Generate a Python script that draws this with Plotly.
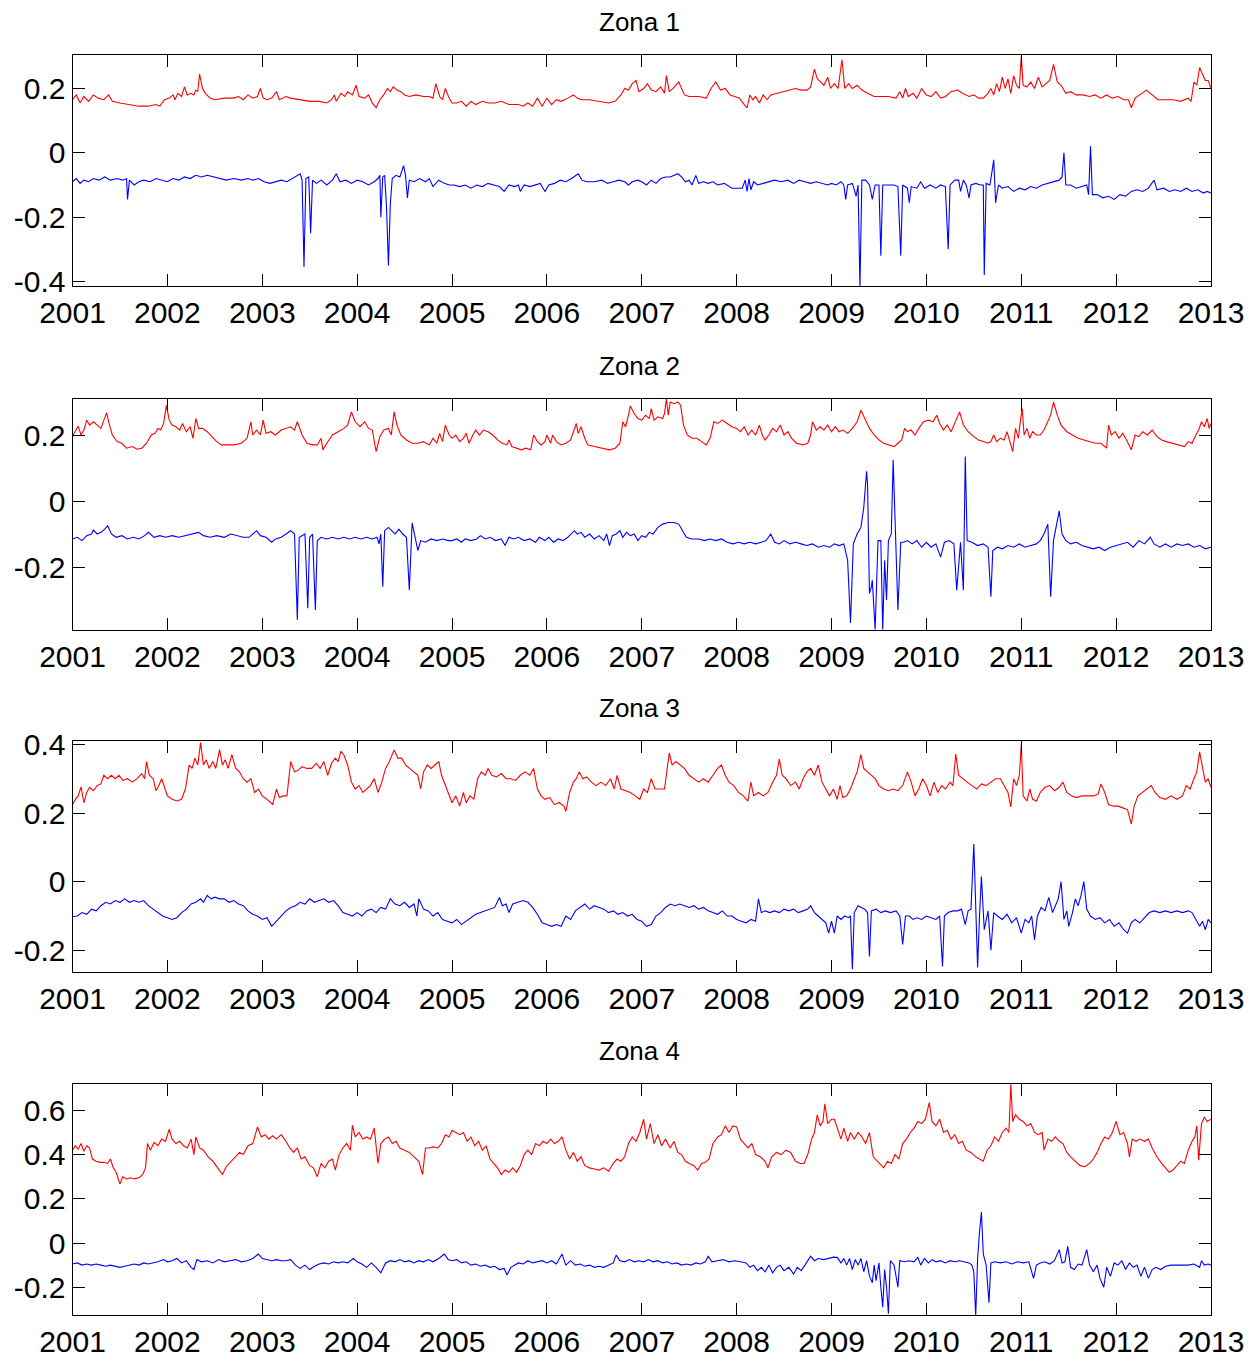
import plotly.graph_objects as go

# ---------------- data (fractional year, value) ----------------
zona_titles = ["Zona 1", "Zona 2", "Zona 3", "Zona 4"]
year_ticks = [2001, 2002, 2003, 2004, 2005, 2006, 2007, 2008, 2009, 2010, 2011, 2012, 2013]
year_labels = [str(y) for y in year_ticks]

y_ticks_1 = [-0.4, -0.2, 0, 0.2]
y_ticks_2 = [-0.2, 0, 0.2]
y_ticks_3 = [-0.2, 0, 0.2, 0.4]
y_ticks_4 = [-0.2, 0, 0.2, 0.4, 0.6]
y_labels_1 = ["-0.4", "-0.2", "0", "0.2"]
y_labels_2 = ["-0.2", "0", "0.2"]
y_labels_3 = ["-0.2", "0", "0.2", "0.4"]
y_labels_4 = ["-0.2", "0", "0.2", "0.4", "0.6"]

z1_red = [(2001.0,.165),(2001.04,.18),(2001.08,.155),(2001.12,.175),(2001.17,.16),(2001.22,.18),(2001.27,.17),(2001.33,.165),(2001.38,.18),(2001.42,.16),(2001.5,.155),(2001.6,.15),(2001.7,.145),(2001.8,.145),(2001.88,.15),(2001.92,.145),(2001.97,.165),(2002.02,.17),(2002.06,.18),(2002.08,.165),(2002.11,.185),(2002.15,.175),(2002.18,.205),(2002.21,.18),(2002.25,.185),(2002.28,.18),(2002.3,.195),(2002.32,.19),(2002.34,.245),(2002.37,.2),(2002.4,.185),(2002.45,.17),(2002.5,.165),(2002.6,.17),(2002.7,.17),(2002.75,.175),(2002.8,.165),(2002.85,.18),(2002.9,.17),(2002.95,.175),(2002.98,.2),(2003.01,.17),(2003.05,.165),(2003.1,.17),(2003.15,.19),(2003.18,.165),(2003.25,.175),(2003.3,.17),(2003.4,.165),(2003.5,.16),(2003.6,.16),(2003.68,.155),(2003.73,.165),(2003.76,.18),(2003.78,.16),(2003.83,.185),(2003.87,.175),(2003.9,.19),(2003.95,.18),(2003.99,.21),(2004.02,.175),(2004.08,.17),(2004.12,.18),(2004.16,.155),(2004.2,.14),(2004.24,.165),(2004.28,.18),(2004.32,.2),(2004.35,.19),(2004.38,.205),(2004.42,.195),(2004.46,.19),(2004.5,.18),(2004.55,.175),(2004.62,.18),(2004.7,.175),(2004.76,.175),(2004.8,.17),(2004.83,.215),(2004.87,.175),(2004.9,.165),(2004.93,.2),(2004.97,.17),(2005.0,.155),
(2005.05,.155),(2005.1,.16),(2005.15,.145),(2005.2,.16),(2005.25,.15),(2005.32,.16),(2005.38,.155),(2005.45,.155),(2005.52,.16),(2005.6,.15),(2005.7,.15),(2005.75,.145),(2005.8,.155),(2005.85,.145),(2005.9,.17),(2005.95,.145),(2006.0,.17),(2006.05,.15),(2006.1,.165),(2006.15,.16),(2006.22,.17),(2006.28,.18),(2006.32,.17),(2006.36,.165),(2006.45,.165),(2006.55,.16),(2006.65,.155),(2006.72,.16),(2006.78,.18),(2006.82,.2),(2006.86,.195),(2006.9,.215),(2006.94,.225),(2006.97,.19),(2007.02,.2),(2007.06,.215),(2007.1,.195),(2007.15,.19),(2007.2,.205),(2007.24,.185),(2007.26,.24),(2007.29,.19),(2007.33,.2),(2007.39,.22),(2007.45,.18),(2007.5,.175),(2007.6,.175),(2007.68,.17),(2007.73,.2),(2007.78,.22),(2007.83,.195),(2007.88,.2),(2007.93,.18),(2007.98,.175),(2008.03,.17),(2008.08,.15),(2008.11,.14),(2008.14,.18),(2008.17,.165),(2008.2,.175),(2008.24,.155),(2008.28,.18),(2008.32,.165),(2008.36,.18),(2008.42,.185),(2008.48,.19),(2008.55,.195),(2008.62,.2),(2008.68,.195),(2008.74,.195),(2008.78,.205),(2008.82,.26),(2008.85,.23),(2008.88,.22),(2008.92,.21),(2008.96,.235),(2008.99,.2),
(2009.03,.215),(2009.07,.2),(2009.11,.29),(2009.14,.2),(2009.18,.215),(2009.22,.2),(2009.27,.21),(2009.32,.195),(2009.38,.185),(2009.45,.175),(2009.52,.175),(2009.6,.175),(2009.68,.17),(2009.72,.19),(2009.75,.17),(2009.78,.2),(2009.81,.175),(2009.86,.185),(2009.9,.17),(2009.95,.2),(2010.0,.18),(2010.05,.175),(2010.1,.19),(2010.15,.17),(2010.2,.175),(2010.26,.19),(2010.33,.195),(2010.38,.185),(2010.45,.175),(2010.5,.18),(2010.55,.17),(2010.6,.17),(2010.65,.185),(2010.68,.2),(2010.71,.18),(2010.74,.215),(2010.77,.19),(2010.8,.235),(2010.83,.2),(2010.86,.23),(2010.89,.185),(2010.92,.24),(2010.95,.21),(2010.98,.2),(2011.0,.30),(2011.02,.21),(2011.06,.205),(2011.1,.22),(2011.14,.2),(2011.18,.235),(2011.22,.205),(2011.26,.215),(2011.3,.225),(2011.34,.275),(2011.38,.22),(2011.42,.21),(2011.47,.185),(2011.52,.19),(2011.58,.18),(2011.65,.18),(2011.72,.175),(2011.78,.18),(2011.84,.17),(2011.9,.18),(2011.96,.17),(2012.02,.175),(2012.08,.165),(2012.13,.165),(2012.16,.14),(2012.2,.17),(2012.25,.18),(2012.32,.195),(2012.38,.18),(2012.44,.165),(2012.52,.165),(2012.6,.165),(2012.68,.16),(2012.76,.17),(2012.79,.16),(2012.82,.22),(2012.85,.21),(2012.88,.265),(2012.91,.245),(2012.94,.225),(2012.97,.225),(2013.0,.2)]

z1_blue = [(2001.0,-.09),(2001.04,-.08),(2001.08,-.095),(2001.12,-.085),(2001.17,-.09),(2001.22,-.08),(2001.28,-.085),(2001.34,-.075),(2001.4,-.085),(2001.47,-.08),(2001.53,-.085),(2001.57,-.08),(2001.58,-.145),(2001.6,-.085),(2001.65,-.1),(2001.7,-.09),(2001.75,-.085),(2001.82,-.09),(2001.88,-.08),(2001.95,-.085),(2002.0,-.09),(2002.06,-.08),(2002.12,-.085),(2002.18,-.075),(2002.24,-.08),(2002.3,-.07),(2002.36,-.075),(2002.42,-.07),(2002.48,-.075),(2002.55,-.08),(2002.62,-.085),(2002.7,-.08),(2002.78,-.085),(2002.85,-.08),(2002.9,-.085),(2002.96,-.08),(2003.02,-.09),(2003.08,-.095),(2003.14,-.09),(2003.2,-.085),(2003.26,-.09),(2003.32,-.08),(2003.37,-.07),(2003.4,-.065),(2003.42,-.085),(2003.44,-.355),(2003.46,-.08),(2003.49,-.075),(2003.51,-.25),(2003.53,-.085),(2003.57,-.095),(2003.62,-.085),(2003.68,-.1),(2003.74,-.085),(2003.78,-.065),(2003.82,-.09),(2003.88,-.085),(2003.94,-.095),(2004.0,-.085),(2004.06,-.09),(2004.12,-.1),(2004.18,-.09),(2004.22,-.08),(2004.24,-.07),(2004.25,-.2),(2004.27,-.075),(2004.29,-.07),(2004.31,-.17),(2004.33,-.35),(2004.35,-.16),(2004.37,-.08),(2004.41,-.07),(2004.45,-.075),(2004.49,-.04),(2004.51,-.07),(2004.53,-.14),(2004.55,-.085),(2004.6,-.09),(2004.66,-.08),(2004.72,-.09),(2004.76,-.08),(2004.8,-.105),(2004.86,-.085),(2004.92,-.095),(2004.97,-.1),
(2005.02,-.1),(2005.08,-.105),(2005.14,-.1),(2005.2,-.11),(2005.26,-.1),(2005.32,-.105),(2005.38,-.095),(2005.44,-.1),(2005.5,-.105),(2005.55,-.12),(2005.6,-.1),(2005.66,-.105),(2005.7,-.1),(2005.72,-.12),(2005.76,-.1),(2005.82,-.105),(2005.88,-.1),(2005.93,-.095),(2005.98,-.12),(2006.02,-.1),(2006.08,-.095),(2006.14,-.085),(2006.2,-.09),(2006.26,-.08),(2006.33,-.065),(2006.37,-.085),(2006.42,-.09),(2006.5,-.09),(2006.58,-.085),(2006.64,-.095),(2006.7,-.09),(2006.76,-.085),(2006.82,-.09),(2006.86,-.1),(2006.9,-.09),(2006.96,-.085),(2007.0,-.09),(2007.05,-.1),(2007.1,-.085),(2007.15,-.095),(2007.2,-.08),(2007.25,-.075),(2007.3,-.075),(2007.35,-.07),(2007.38,-.065),(2007.42,-.075),(2007.46,-.09),(2007.5,-.085),(2007.53,-.1),(2007.57,-.07),(2007.6,-.095),(2007.65,-.09),(2007.7,-.095),(2007.75,-.09),(2007.8,-.1),(2007.87,-.095),(2007.95,-.11),(2008.02,-.11),(2008.06,-.11),(2008.09,-.085),(2008.11,-.12),(2008.13,-.08),(2008.15,-.115),(2008.18,-.09),(2008.22,-.1),(2008.28,-.095),(2008.33,-.09),(2008.4,-.085),(2008.47,-.09),(2008.54,-.085),(2008.6,-.095),(2008.66,-.085),(2008.72,-.09),(2008.78,-.095),(2008.84,-.09),(2008.9,-.095),(2008.96,-.1),
(2009.0,-.095),(2009.05,-.1),(2009.1,-.09),(2009.13,-.1),(2009.15,-.145),(2009.17,-.1),(2009.22,-.095),(2009.26,-.135),(2009.28,-.1),(2009.3,-.42),(2009.32,-.085),(2009.36,-.085),(2009.4,-.1),(2009.43,-.145),(2009.46,-.1),(2009.5,-.1),(2009.52,-.32),(2009.54,-.1),(2009.6,-.1),(2009.66,-.1),(2009.7,-.105),(2009.73,-.32),(2009.75,-.1),(2009.8,-.11),(2009.82,-.155),(2009.84,-.105),(2009.9,-.11),(2009.94,-.09),(2009.98,-.11),(2010.04,-.1),(2010.1,-.11),(2010.15,-.1),(2010.2,-.105),(2010.23,-.3),(2010.25,-.1),(2010.3,-.085),(2010.34,-.085),(2010.36,-.12),(2010.39,-.085),(2010.42,-.1),(2010.45,-.14),(2010.47,-.1),(2010.52,-.095),(2010.57,-.1),(2010.6,-.1),(2010.61,-.38),(2010.63,-.095),(2010.67,-.1),(2010.71,-.022),(2010.73,-.155),(2010.76,-.1),(2010.8,-.11),(2010.86,-.105),(2010.92,-.12),(2010.98,-.11),(2011.04,-.115),(2011.1,-.105),(2011.16,-.11),(2011.22,-.1),(2011.28,-.095),(2011.34,-.09),(2011.4,-.085),(2011.43,-.075),(2011.45,0.0),(2011.47,-.1),(2011.52,-.1),(2011.58,-.11),(2011.64,-.105),(2011.69,-.1),(2011.71,-.13),(2011.73,.02),(2011.75,-.13),(2011.8,-.13),(2011.86,-.14),(2011.92,-.135),(2011.98,-.145),(2012.04,-.13),(2012.1,-.135),(2012.16,-.12),(2012.22,-.115),(2012.28,-.12),(2012.34,-.11),(2012.4,-.085),(2012.43,-.115),(2012.5,-.11),(2012.56,-.12),(2012.62,-.115),(2012.68,-.12),(2012.74,-.11),(2012.8,-.12),(2012.86,-.115),(2012.92,-.125),(2012.96,-.12),(2013.0,-.125)]

z2_red = [(2001.0,.197),(2001.03,.21),(2001.06,.227),(2001.09,.2),(2001.12,.215),(2001.15,.245),(2001.18,.23),(2001.22,.24),(2001.26,.23),(2001.3,.22),(2001.33,.245),(2001.36,.267),(2001.39,.23),(2001.42,.2),(2001.47,.18),(2001.52,.175),(2001.57,.16),(2001.63,.165),(2001.68,.157),(2001.73,.16),(2001.78,.175),(2001.83,.2),(2001.87,.205),(2001.9,.22),(2001.93,.215),(2001.96,.235),(2001.99,.29),(2002.02,.245),(2002.05,.23),(2002.09,.225),(2002.13,.215),(2002.16,.235),(2002.2,.21),(2002.24,.225),(2002.27,.19),(2002.3,.25),(2002.33,.22),(2002.37,.22),(2002.42,.21),(2002.47,.195),(2002.52,.18),(2002.57,.17),(2002.62,.17),(2002.7,.17),(2002.78,.175),(2002.84,.19),(2002.88,.24),(2002.9,.2),(2002.94,.215),(2002.98,.2),(2003.01,.245),(2003.04,.205),(2003.09,.21),(2003.14,.2),(2003.2,.215),(2003.26,.22),(2003.3,.225),(2003.34,.215),(2003.37,.24),(2003.42,.2),(2003.47,.175),(2003.53,.17),(2003.58,.17),(2003.62,.19),(2003.64,.155),(2003.68,.175),(2003.74,.2),(2003.8,.21),(2003.86,.22),(2003.9,.23),(2003.94,.27),(2003.98,.24),(2004.03,.225),(2004.08,.24),(2004.12,.22),(2004.16,.215),(2004.2,.15),(2004.24,.195),(2004.28,.215),(2004.33,.22),(2004.36,.2),(2004.39,.27),(2004.42,.23),(2004.46,.2),(2004.52,.185),(2004.58,.175),(2004.64,.175),(2004.7,.18),(2004.76,.17),(2004.8,.19),(2004.84,.175),(2004.87,.205),(2004.9,.18),(2004.93,.23),(2004.97,.2),(2005.0,.19),
(2005.04,.2),(2005.08,.18),(2005.12,.19),(2005.15,.205),(2005.18,.175),(2005.22,.2),(2005.25,.215),(2005.29,.2),(2005.33,.215),(2005.38,.21),(2005.43,.2),(2005.48,.185),(2005.53,.175),(2005.58,.17),(2005.6,.185),(2005.63,.165),(2005.68,.16),(2005.73,.155),(2005.78,.16),(2005.83,.155),(2005.86,.2),(2005.9,.18),(2005.94,.17),(2005.98,.18),(2006.0,.2),(2006.04,.175),(2006.06,.2),(2006.1,.18),(2006.15,.17),(2006.2,.175),(2006.25,.185),(2006.28,.21),(2006.31,.235),(2006.33,.205),(2006.36,.225),(2006.4,.19),(2006.43,.17),(2006.5,.165),(2006.58,.16),(2006.66,.155),(2006.72,.16),(2006.77,.175),(2006.8,.24),(2006.83,.225),(2006.86,.26),(2006.88,.288),(2006.92,.265),(2006.96,.25),(2007.0,.245),(2007.04,.26),(2007.08,.25),(2007.1,.28),(2007.13,.245),(2007.17,.255),(2007.22,.25),(2007.24,.265),(2007.26,.31),(2007.28,.26),(2007.3,.3),(2007.34,.295),(2007.38,.3),(2007.41,.29),(2007.44,.23),(2007.48,.2),(2007.53,.19),(2007.58,.19),(2007.63,.18),(2007.68,.17),(2007.72,.19),(2007.76,.24),(2007.8,.235),(2007.85,.245),(2007.9,.235),(2007.95,.225),(2008.0,.22),(2008.04,.21),(2008.08,.225),(2008.12,.2),(2008.16,.215),(2008.2,.2),(2008.24,.23),(2008.27,.2),(2008.3,.185),(2008.34,.2),(2008.38,.22),(2008.42,.21),(2008.46,.23),(2008.5,.2),(2008.54,.21),(2008.58,.19),(2008.63,.175),(2008.7,.17),(2008.75,.175),(2008.78,.2),(2008.8,.24),(2008.84,.215),(2008.88,.225),(2008.92,.215),(2008.96,.23),(2009.0,.21),
(2009.04,.225),(2009.08,.21),(2009.12,.215),(2009.17,.205),(2009.22,.22),(2009.27,.24),(2009.31,.275),(2009.35,.25),(2009.4,.22),(2009.45,.2),(2009.5,.185),(2009.55,.175),(2009.6,.17),(2009.66,.165),(2009.7,.175),(2009.74,.185),(2009.77,.22),(2009.8,.21),(2009.84,.215),(2009.88,.2),(2009.92,.22),(2009.97,.24),(2010.02,.245),(2010.07,.24),(2010.11,.26),(2010.14,.235),(2010.18,.215),(2010.22,.23),(2010.26,.21),(2010.3,.235),(2010.35,.27),(2010.39,.23),(2010.44,.21),(2010.5,.195),(2010.55,.185),(2010.6,.18),(2010.65,.175),(2010.68,.18),(2010.71,.2),(2010.74,.18),(2010.78,.19),(2010.82,.185),(2010.85,.21),(2010.88,.18),(2010.91,.15),(2010.94,.22),(2010.97,.19),(2010.99,.24),(2011.01,.28),(2011.03,.2),(2011.06,.22),(2011.09,.19),(2011.12,.21),(2011.16,.2),(2011.2,.2),(2011.24,.215),(2011.28,.24),(2011.31,.26),(2011.34,.3),(2011.38,.26),(2011.42,.23),(2011.48,.21),(2011.54,.2),(2011.6,.19),(2011.66,.185),(2011.72,.18),(2011.78,.175),(2011.84,.175),(2011.88,.165),(2011.9,.16),(2011.92,.23),(2011.95,.2),(2011.99,.21),(2012.03,.19),(2012.07,.205),(2012.11,.185),(2012.16,.155),(2012.2,.2),(2012.24,.195),(2012.28,.21),(2012.33,.2),(2012.38,.215),(2012.43,.195),(2012.48,.185),(2012.53,.18),(2012.6,.175),(2012.66,.17),(2012.72,.165),(2012.76,.18),(2012.8,.175),(2012.84,.2),(2012.87,.215),(2012.9,.24),(2012.93,.225),(2012.96,.25),(2012.98,.22),(2013.0,.235)]

z2_blue = [(2001.0,-.115),(2001.05,-.11),(2001.1,-.12),(2001.15,-.105),(2001.2,-.1),(2001.22,-.088),(2001.26,-.1),(2001.3,-.095),(2001.34,-.085),(2001.37,-.075),(2001.41,-.1),(2001.46,-.11),(2001.52,-.105),(2001.58,-.115),(2001.64,-.11),(2001.7,-.115),(2001.76,-.105),(2001.8,-.095),(2001.86,-.11),(2001.92,-.105),(2001.98,-.11),(2002.05,-.105),(2002.12,-.11),(2002.2,-.105),(2002.26,-.1),(2002.33,-.095),(2002.38,-.105),(2002.45,-.11),(2002.52,-.105),(2002.6,-.11),(2002.67,-.1),(2002.74,-.105),(2002.8,-.11),(2002.86,-.11),(2002.9,-.1),(2002.94,-.09),(2002.98,-.105),(2003.04,-.11),(2003.1,-.125),(2003.14,-.115),(2003.2,-.11),(2003.25,-.1),(2003.3,-.09),(2003.34,-.1),(2003.36,-.28),(2003.37,-.36),(2003.39,-.11),(2003.45,-.1),(2003.48,-.325),(2003.5,-.11),(2003.53,-.1),(2003.56,-.33),(2003.58,-.12),(2003.62,-.11),(2003.68,-.115),(2003.74,-.11),(2003.8,-.115),(2003.86,-.11),(2003.92,-.115),(2003.98,-.11),(2004.04,-.115),(2004.1,-.11),(2004.16,-.115),(2004.21,-.11),(2004.23,-.13),(2004.25,-.1),(2004.27,-.26),(2004.29,-.09),(2004.33,-.08),(2004.36,-.09),(2004.4,-.1),(2004.44,-.085),(2004.48,-.1),(2004.52,-.11),(2004.55,-.27),(2004.58,-.066),(2004.61,-.11),(2004.64,-.15),(2004.67,-.12),(2004.72,-.125),(2004.78,-.115),(2004.84,-.12),(2004.9,-.115),(2004.96,-.12),
(2005.0,-.12),(2005.05,-.115),(2005.1,-.125),(2005.14,-.115),(2005.2,-.12),(2005.26,-.115),(2005.3,-.105),(2005.35,-.115),(2005.4,-.11),(2005.46,-.12),(2005.52,-.115),(2005.56,-.135),(2005.6,-.11),(2005.65,-.115),(2005.7,-.11),(2005.76,-.12),(2005.82,-.115),(2005.88,-.125),(2005.92,-.11),(2005.98,-.12),(2006.02,-.11),(2006.07,-.125),(2006.12,-.115),(2006.17,-.12),(2006.22,-.11),(2006.26,-.1),(2006.29,-.09),(2006.32,-.1),(2006.36,-.095),(2006.4,-.11),(2006.45,-.1),(2006.5,-.115),(2006.55,-.105),(2006.6,-.12),(2006.63,-.1),(2006.66,-.135),(2006.69,-.105),(2006.73,-.1),(2006.77,-.09),(2006.8,-.11),(2006.84,-.095),(2006.88,-.105),(2006.92,-.1),(2006.96,-.12),(2007.0,-.105),(2007.04,-.11),(2007.08,-.095),(2007.12,-.1),(2007.17,-.08),(2007.22,-.07),(2007.28,-.065),(2007.34,-.065),(2007.39,-.07),(2007.43,-.09),(2007.47,-.11),(2007.53,-.115),(2007.6,-.115),(2007.66,-.12),(2007.72,-.115),(2007.78,-.12),(2007.84,-.115),(2007.9,-.125),(2007.96,-.13),(2008.02,-.125),(2008.08,-.13),(2008.14,-.125),(2008.2,-.13),(2008.26,-.125),(2008.31,-.12),(2008.36,-.1),(2008.4,-.125),(2008.45,-.13),(2008.5,-.12),(2008.56,-.13),(2008.62,-.125),(2008.68,-.13),(2008.74,-.135),(2008.8,-.13),(2008.86,-.14),(2008.92,-.135),(2008.98,-.14),
(2009.03,-.13),(2009.08,-.135),(2009.13,-.13),(2009.17,-.18),(2009.2,-.37),(2009.23,-.13),(2009.27,-.1),(2009.31,-.08),(2009.34,-.02),(2009.37,.09),(2009.38,.05),(2009.4,-.28),(2009.42,-.26),(2009.43,-.24),(2009.46,-.39),(2009.49,-.12),(2009.52,-.12),(2009.54,-.39),(2009.56,-.18),(2009.58,-.3),(2009.6,-.12),(2009.63,-.1),(2009.65,.125),(2009.68,-.18),(2009.7,-.33),(2009.73,-.125),(2009.76,-.125),(2009.8,-.12),(2009.85,-.13),(2009.9,-.12),(2009.95,-.14),(2010.0,-.125),(2010.05,-.14),(2010.1,-.13),(2010.15,-.17),(2010.19,-.125),(2010.24,-.12),(2010.29,-.13),(2010.32,-.27),(2010.36,-.125),(2010.39,-.27),(2010.41,.135),(2010.43,-.12),(2010.48,-.125),(2010.54,-.135),(2010.6,-.13),(2010.65,-.14),(2010.68,-.29),(2010.7,-.15),(2010.75,-.14),(2010.8,-.145),(2010.86,-.135),(2010.92,-.14),(2010.98,-.13),(2011.04,-.14),(2011.1,-.135),(2011.16,-.13),(2011.2,-.12),(2011.24,-.1),(2011.28,-.07),(2011.31,-.29),(2011.34,-.12),(2011.37,-.07),(2011.4,-.03),(2011.43,-.1),(2011.47,-.12),(2011.52,-.13),(2011.58,-.125),(2011.64,-.135),(2011.7,-.14),(2011.76,-.145),(2011.82,-.14),(2011.88,-.15),(2011.94,-.14),(2012.0,-.135),(2012.06,-.13),(2012.12,-.125),(2012.18,-.14),(2012.24,-.12),(2012.3,-.13),(2012.36,-.11),(2012.4,-.13),(2012.46,-.14),(2012.52,-.13),(2012.58,-.14),(2012.64,-.13),(2012.7,-.135),(2012.76,-.13),(2012.82,-.14),(2012.88,-.135),(2012.94,-.145),(2013.0,-.14)]

z3_red = [(2001.0,.224),(2001.03,.24),(2001.06,.25),(2001.09,.276),(2001.12,.23),(2001.15,.26),(2001.18,.275),(2001.22,.265),(2001.26,.28),(2001.3,.285),(2001.33,.31),(2001.37,.3),(2001.41,.31),(2001.45,.3),(2001.49,.31),(2001.53,.295),(2001.58,.3),(2001.63,.29),(2001.68,.3),(2001.73,.315),(2001.76,.3),(2001.78,.35),(2001.81,.31),(2001.85,.3),(2001.88,.265),(2001.91,.28),(2001.94,.3),(2001.97,.275),(2002.0,.25),(2002.05,.24),(2002.1,.235),(2002.15,.24),(2002.19,.27),(2002.23,.34),(2002.26,.33),(2002.29,.36),(2002.32,.34),(2002.35,.405),(2002.38,.34),(2002.41,.355),(2002.44,.33),(2002.48,.35),(2002.51,.33),(2002.55,.385),(2002.58,.34),(2002.61,.355),(2002.64,.33),(2002.68,.37),(2002.72,.33),(2002.76,.32),(2002.8,.3),(2002.84,.29),(2002.88,.3),(2002.92,.26),(2002.96,.27),(2003.0,.25),(2003.05,.24),(2003.11,.225),(2003.15,.27),(2003.18,.245),(2003.22,.25),(2003.26,.25),(2003.3,.35),(2003.34,.32),(2003.38,.325),(2003.42,.335),(2003.47,.33),(2003.52,.33),(2003.57,.345),(2003.61,.33),(2003.65,.35),(2003.69,.31),(2003.73,.345),(2003.77,.36),(2003.8,.35),(2003.83,.38),(2003.86,.37),(2003.9,.34),(2003.94,.29),(2003.98,.27),(2004.02,.28),(2004.06,.26),(2004.1,.27),(2004.14,.28),(2004.18,.3),(2004.22,.26),(2004.26,.29),(2004.3,.33),(2004.34,.35),(2004.39,.384),(2004.43,.36),(2004.47,.36),(2004.51,.34),(2004.55,.33),(2004.6,.32),(2004.64,.31),(2004.67,.27),(2004.7,.32),(2004.74,.34),(2004.78,.33),(2004.82,.34),(2004.86,.35),(2004.89,.31),(2004.93,.28),(2004.97,.25),(2005.0,.23),
(2005.04,.25),(2005.08,.22),(2005.12,.26),(2005.15,.23),(2005.19,.25),(2005.23,.24),(2005.27,.3),(2005.31,.32),(2005.35,.31),(2005.38,.33),(2005.42,.31),(2005.47,.305),(2005.52,.315),(2005.57,.3),(2005.62,.3),(2005.67,.295),(2005.72,.31),(2005.77,.32),(2005.82,.31),(2005.86,.33),(2005.9,.27),(2005.94,.25),(2005.98,.24),(2006.03,.245),(2006.08,.225),(2006.13,.23),(2006.18,.22),(2006.2,.205),(2006.24,.26),(2006.28,.29),(2006.31,.3),(2006.34,.32),(2006.38,.3),(2006.42,.305),(2006.47,.29),(2006.52,.28),(2006.57,.29),(2006.62,.28),(2006.67,.3),(2006.71,.27),(2006.74,.31),(2006.78,.27),(2006.83,.265),(2006.88,.26),(2006.93,.25),(2006.98,.24),(2007.02,.27),(2007.06,.26),(2007.1,.3),(2007.14,.27),(2007.19,.27),(2007.24,.27),(2007.29,.375),(2007.32,.34),(2007.36,.35),(2007.41,.34),(2007.45,.33),(2007.5,.31),(2007.55,.3),(2007.6,.29),(2007.65,.3),(2007.7,.29),(2007.75,.31),(2007.8,.33),(2007.84,.34),(2007.88,.31),(2007.92,.29),(2007.97,.28),(2008.02,.26),(2008.07,.25),(2008.12,.235),(2008.15,.29),(2008.18,.25),(2008.23,.26),(2008.28,.25),(2008.33,.26),(2008.38,.29),(2008.42,.31),(2008.45,.357),(2008.48,.31),(2008.52,.3),(2008.57,.28),(2008.62,.29),(2008.66,.27),(2008.7,.3),(2008.74,.32),(2008.78,.33),(2008.82,.31),(2008.86,.34),(2008.9,.29),(2008.94,.27),(2008.98,.25),
(2009.02,.27),(2009.06,.24),(2009.09,.28),(2009.12,.245),(2009.16,.25),(2009.2,.27),(2009.24,.3),(2009.27,.32),(2009.31,.37),(2009.34,.33),(2009.38,.32),(2009.42,.31),(2009.46,.3),(2009.5,.28),(2009.55,.27),(2009.6,.265),(2009.65,.27),(2009.7,.265),(2009.75,.28),(2009.8,.32),(2009.84,.29),(2009.88,.25),(2009.92,.27),(2009.96,.3),(2010.0,.28),(2010.04,.25),(2010.08,.29),(2010.12,.26),(2010.16,.28),(2010.2,.27),(2010.25,.29),(2010.28,.28),(2010.31,.372),(2010.34,.31),(2010.38,.3),(2010.43,.29),(2010.48,.28),(2010.53,.27),(2010.58,.285),(2010.63,.28),(2010.68,.29),(2010.73,.3),(2010.78,.3),(2010.82,.28),(2010.86,.26),(2010.89,.218),(2010.92,.3),(2010.95,.28),(2010.98,.31),(2011.0,.4),(2011.02,.25),(2011.06,.235),(2011.09,.27),(2011.12,.24),(2011.16,.235),(2011.2,.26),(2011.25,.275),(2011.3,.28),(2011.35,.265),(2011.4,.275),(2011.44,.29),(2011.48,.26),(2011.53,.25),(2011.58,.245),(2011.64,.25),(2011.7,.25),(2011.76,.25),(2011.81,.255),(2011.84,.285),(2011.88,.26),(2011.92,.225),(2011.97,.22),(2012.02,.22),(2012.07,.215),(2012.12,.21),(2012.16,.168),(2012.19,.22),(2012.23,.25),(2012.28,.26),(2012.33,.27),(2012.37,.28),(2012.41,.26),(2012.46,.245),(2012.52,.24),(2012.58,.25),(2012.64,.24),(2012.7,.25),(2012.74,.28),(2012.78,.27),(2012.82,.3),(2012.85,.32),(2012.88,.378),(2012.91,.33),(2012.94,.29),(2012.97,.3),(2013.0,.275)]

z3_blue = [(2001.0,-.102),(2001.05,-.1),(2001.1,-.09),(2001.15,-.095),(2001.2,-.08),(2001.25,-.085),(2001.3,-.07),(2001.35,-.06),(2001.4,-.065),(2001.45,-.055),(2001.5,-.06),(2001.55,-.05),(2001.6,-.06),(2001.65,-.055),(2001.7,-.06),(2001.75,-.055),(2001.8,-.07),(2001.85,-.08),(2001.9,-.09),(2001.95,-.1),(2002.0,-.105),(2002.05,-.11),(2002.1,-.105),(2002.15,-.09),(2002.2,-.08),(2002.25,-.065),(2002.3,-.06),(2002.35,-.05),(2002.38,-.06),(2002.42,-.04),(2002.46,-.05),(2002.5,-.045),(2002.55,-.05),(2002.6,-.05),(2002.65,-.06),(2002.7,-.055),(2002.75,-.065),(2002.8,-.07),(2002.85,-.085),(2002.9,-.095),(2002.95,-.1),(2003.0,-.11),(2003.05,-.105),(2003.1,-.13),(2003.15,-.115),(2003.2,-.1),(2003.25,-.085),(2003.3,-.075),(2003.35,-.07),(2003.4,-.06),(2003.45,-.065),(2003.5,-.05),(2003.55,-.06),(2003.6,-.055),(2003.65,-.05),(2003.7,-.06),(2003.75,-.055),(2003.8,-.07),(2003.85,-.09),(2003.9,-.095),(2003.95,-.1),(2004.0,-.09),(2004.05,-.1),(2004.1,-.085),(2004.15,-.08),(2004.2,-.09),(2004.25,-.075),(2004.3,-.08),(2004.35,-.05),(2004.4,-.065),(2004.45,-.07),(2004.5,-.06),(2004.55,-.075),(2004.6,-.065),(2004.63,-.1),(2004.65,-.05),(2004.7,-.08),(2004.75,-.085),(2004.8,-.1),(2004.85,-.09),(2004.9,-.11),(2004.95,-.115),(2005.0,-.12),
(2005.05,-.11),(2005.1,-.125),(2005.15,-.115),(2005.2,-.105),(2005.25,-.095),(2005.3,-.09),(2005.35,-.085),(2005.4,-.08),(2005.45,-.075),(2005.5,-.046),(2005.53,-.07),(2005.57,-.065),(2005.6,-.09),(2005.64,-.065),(2005.7,-.06),(2005.75,-.055),(2005.8,-.06),(2005.85,-.075),(2005.9,-.095),(2005.95,-.12),(2006.0,-.125),(2006.05,-.13),(2006.1,-.125),(2006.15,-.13),(2006.2,-.1),(2006.25,-.11),(2006.3,-.085),(2006.35,-.075),(2006.4,-.065),(2006.45,-.08),(2006.5,-.07),(2006.55,-.075),(2006.6,-.08),(2006.65,-.09),(2006.7,-.085),(2006.75,-.095),(2006.8,-.09),(2006.85,-.1),(2006.9,-.095),(2006.95,-.11),(2007.0,-.115),(2007.05,-.13),(2007.1,-.125),(2007.15,-.1),(2007.2,-.09),(2007.25,-.075),(2007.3,-.065),(2007.35,-.07),(2007.4,-.065),(2007.45,-.07),(2007.5,-.075),(2007.55,-.07),(2007.6,-.08),(2007.65,-.075),(2007.7,-.085),(2007.75,-.09),(2007.8,-.095),(2007.85,-.085),(2007.9,-.1),(2007.95,-.1),(2008.0,-.11),(2008.05,-.115),(2008.1,-.12),(2008.15,-.11),(2008.2,-.115),(2008.23,-.05),(2008.26,-.09),(2008.3,-.085),(2008.35,-.09),(2008.4,-.085),(2008.45,-.09),(2008.5,-.08),(2008.55,-.085),(2008.6,-.08),(2008.65,-.09),(2008.7,-.085),(2008.75,-.08),(2008.78,-.07),(2008.82,-.09),(2008.86,-.1),(2008.9,-.11),(2008.94,-.12),(2008.97,-.15),(2009.0,-.115),
(2009.03,-.15),(2009.06,-.1),(2009.1,-.11),(2009.14,-.1),(2009.18,-.105),(2009.2,-.1),(2009.22,-.255),(2009.24,-.09),(2009.28,-.07),(2009.31,-.075),(2009.35,-.08),(2009.38,-.09),(2009.4,-.218),(2009.42,-.085),(2009.47,-.08),(2009.52,-.09),(2009.57,-.085),(2009.62,-.09),(2009.68,-.085),(2009.72,-.1),(2009.75,-.183),(2009.78,-.1),(2009.82,-.1),(2009.86,-.11),(2009.9,-.105),(2009.95,-.11),(2010.0,-.1),(2010.05,-.105),(2010.1,-.11),(2010.14,-.1),(2010.17,-.247),(2010.19,-.1),(2010.23,-.09),(2010.28,-.085),(2010.33,-.085),(2010.37,-.08),(2010.41,-.125),(2010.44,-.085),(2010.47,-.08),(2010.5,.11),(2010.52,-.05),(2010.54,-.25),(2010.56,-.1),(2010.58,.015),(2010.61,-.14),(2010.65,-.085),(2010.68,-.2),(2010.71,-.09),(2010.75,-.1),(2010.8,-.11),(2010.85,-.095),(2010.9,-.12),(2010.95,-.105),(2011.0,-.15),(2011.04,-.11),(2011.08,-.12),(2011.11,-.1),(2011.14,-.17),(2011.17,-.1),(2011.21,-.075),(2011.25,-.085),(2011.29,-.046),(2011.33,-.09),(2011.36,-.07),(2011.39,-.05),(2011.42,0.0),(2011.45,-.11),(2011.48,-.085),(2011.5,-.13),(2011.54,-.09),(2011.57,-.05),(2011.6,-.07),(2011.63,-.04),(2011.66,0.0),(2011.69,-.08),(2011.73,-.1),(2011.78,-.11),(2011.83,-.105),(2011.88,-.12),(2011.93,-.11),(2011.98,-.13),(2012.03,-.12),(2012.08,-.14),(2012.12,-.15),(2012.16,-.12),(2012.2,-.11),(2012.25,-.12),(2012.3,-.105),(2012.35,-.09),(2012.4,-.085),(2012.46,-.09),(2012.52,-.085),(2012.58,-.09),(2012.64,-.085),(2012.7,-.09),(2012.76,-.085),(2012.8,-.09),(2012.84,-.11),(2012.88,-.13),(2012.91,-.115),(2012.94,-.14),(2012.97,-.11),(2013.0,-.12)]

z4_red = [(2001.0,.42),(2001.03,.44),(2001.06,.425),(2001.09,.45),(2001.12,.415),(2001.15,.44),(2001.18,.43),(2001.21,.38),(2001.25,.37),(2001.29,.365),(2001.33,.365),(2001.37,.36),(2001.4,.38),(2001.43,.34),(2001.46,.32),(2001.5,.267),(2001.53,.3),(2001.57,.29),(2001.61,.295),(2001.65,.29),(2001.7,.295),(2001.74,.31),(2001.77,.34),(2001.79,.45),(2001.82,.42),(2001.86,.455),(2001.9,.44),(2001.94,.47),(2001.98,.46),(2002.02,.515),(2002.05,.47),(2002.09,.45),(2002.13,.46),(2002.17,.44),(2002.21,.43),(2002.25,.47),(2002.28,.4),(2002.3,.48),(2002.34,.43),(2002.38,.42),(2002.43,.39),(2002.48,.37),(2002.53,.34),(2002.58,.31),(2002.62,.345),(2002.67,.37),(2002.72,.39),(2002.76,.41),(2002.8,.4),(2002.85,.44),(2002.9,.45),(2002.95,.525),(2002.99,.48),(2003.03,.49),(2003.07,.47),(2003.11,.485),(2003.15,.47),(2003.2,.49),(2003.25,.46),(2003.29,.43),(2003.33,.41),(2003.37,.43),(2003.41,.38),(2003.45,.39),(2003.5,.35),(2003.54,.34),(2003.58,.3),(2003.62,.36),(2003.66,.34),(2003.7,.37),(2003.74,.38),(2003.77,.33),(2003.81,.4),(2003.85,.43),(2003.89,.45),(2003.93,.42),(2003.95,.533),(2003.98,.48),(2004.02,.5),(2004.06,.47),(2004.1,.48),(2004.14,.47),(2004.18,.52),(2004.22,.36),(2004.25,.45),(2004.29,.47),(2004.33,.48),(2004.37,.45),(2004.41,.46),(2004.45,.43),(2004.5,.42),(2004.55,.41),(2004.6,.39),(2004.65,.37),(2004.69,.31),(2004.72,.43),(2004.76,.43),(2004.8,.435),(2004.85,.43),(2004.89,.45),(2004.93,.49),(2004.97,.48),(2005.0,.51),
(2005.04,.5),(2005.08,.49),(2005.12,.5),(2005.16,.46),(2005.2,.48),(2005.24,.44),(2005.28,.46),(2005.32,.42),(2005.36,.44),(2005.4,.38),(2005.44,.36),(2005.48,.34),(2005.52,.31),(2005.56,.33),(2005.6,.32),(2005.64,.34),(2005.68,.32),(2005.72,.35),(2005.76,.4),(2005.8,.42),(2005.84,.4),(2005.88,.45),(2005.92,.44),(2005.96,.46),(2006.0,.45),(2006.04,.47),(2006.08,.45),(2006.12,.46),(2006.16,.48),(2006.2,.42),(2006.24,.38),(2006.28,.41),(2006.32,.37),(2006.36,.39),(2006.4,.35),(2006.45,.34),(2006.5,.335),(2006.55,.33),(2006.6,.34),(2006.65,.325),(2006.7,.36),(2006.74,.38),(2006.78,.37),(2006.82,.39),(2006.86,.45),(2006.9,.48),(2006.94,.46),(2006.98,.5),(2007.02,.56),(2007.05,.47),(2007.09,.54),(2007.13,.45),(2007.17,.49),(2007.21,.44),(2007.25,.47),(2007.3,.43),(2007.34,.46),(2007.38,.41),(2007.42,.4),(2007.46,.37),(2007.5,.36),(2007.55,.35),(2007.59,.33),(2007.63,.36),(2007.67,.365),(2007.71,.38),(2007.75,.45),(2007.8,.48),(2007.84,.49),(2007.88,.53),(2007.92,.5),(2007.96,.53),(2008.0,.525),(2008.04,.47),(2008.08,.45),(2008.12,.43),(2008.16,.45),(2008.2,.4),(2008.25,.39),(2008.3,.37),(2008.33,.34),(2008.37,.39),(2008.42,.41),(2008.47,.4),(2008.52,.42),(2008.57,.41),(2008.62,.37),(2008.67,.36),(2008.71,.36),(2008.75,.4),(2008.79,.47),(2008.82,.5),(2008.85,.58),(2008.88,.53),(2008.91,.55),(2008.93,.63),(2008.96,.54),(2009.0,.56),
(2009.03,.56),(2009.07,.51),(2009.1,.47),(2009.13,.52),(2009.17,.46),(2009.2,.5),(2009.24,.47),(2009.28,.5),(2009.32,.48),(2009.36,.45),(2009.4,.5),(2009.44,.39),(2009.48,.37),(2009.52,.35),(2009.55,.34),(2009.59,.37),(2009.63,.36),(2009.67,.4),(2009.71,.38),(2009.75,.45),(2009.79,.47),(2009.83,.5),(2009.87,.52),(2009.91,.55),(2009.95,.54),(2009.99,.56),(2010.03,.635),(2010.06,.55),(2010.1,.53),(2010.14,.56),(2010.18,.5),(2010.22,.51),(2010.26,.47),(2010.3,.49),(2010.34,.45),(2010.38,.46),(2010.42,.42),(2010.47,.41),(2010.52,.39),(2010.56,.38),(2010.6,.37),(2010.64,.42),(2010.68,.44),(2010.72,.48),(2010.76,.46),(2010.8,.5),(2010.84,.52),(2010.87,.5),(2010.89,.72),(2010.91,.55),(2010.94,.58),(2010.98,.56),(2011.02,.55),(2011.06,.53),(2011.1,.54),(2011.14,.5),(2011.18,.49),(2011.22,.5),(2011.24,.42),(2011.28,.47),(2011.32,.46),(2011.36,.48),(2011.4,.46),(2011.44,.45),(2011.48,.41),(2011.52,.39),(2011.57,.37),(2011.62,.35),(2011.67,.345),(2011.72,.36),(2011.76,.38),(2011.8,.41),(2011.84,.45),(2011.88,.48),(2011.92,.47),(2011.96,.5),(2012.0,.55),(2012.04,.49),(2012.08,.5),(2012.12,.45),(2012.14,.39),(2012.17,.47),(2012.21,.46),(2012.25,.47),(2012.3,.46),(2012.34,.47),(2012.38,.43),(2012.43,.39),(2012.48,.36),(2012.52,.34),(2012.56,.32),(2012.6,.33),(2012.64,.35),(2012.68,.37),(2012.72,.36),(2012.76,.42),(2012.8,.46),(2012.83,.48),(2012.85,.53),(2012.87,.375),(2012.9,.54),(2012.93,.57),(2012.96,.55),(2013.0,.56)]

z4_blue = [(2001.0,-.095),(2001.05,-.09),(2001.1,-.1),(2001.15,-.095),(2001.2,-.1),(2001.25,-.095),(2001.3,-.1),(2001.35,-.105),(2001.4,-.1),(2001.45,-.105),(2001.5,-.11),(2001.55,-.105),(2001.6,-.1),(2001.65,-.095),(2001.7,-.1),(2001.75,-.09),(2001.8,-.095),(2001.85,-.09),(2001.9,-.085),(2001.96,-.075),(2002.0,-.085),(2002.05,-.08),(2002.1,-.07),(2002.15,-.09),(2002.2,-.08),(2002.25,-.11),(2002.28,-.12),(2002.31,-.075),(2002.36,-.085),(2002.42,-.08),(2002.48,-.09),(2002.54,-.075),(2002.6,-.085),(2002.66,-.08),(2002.72,-.075),(2002.78,-.085),(2002.84,-.08),(2002.9,-.07),(2002.96,-.05),(2003.0,-.07),(2003.05,-.075),(2003.1,-.08),(2003.15,-.075),(2003.2,-.08),(2003.25,-.08),(2003.3,-.075),(2003.35,-.1),(2003.4,-.115),(2003.45,-.1),(2003.5,-.12),(2003.55,-.105),(2003.6,-.095),(2003.65,-.09),(2003.7,-.095),(2003.75,-.085),(2003.8,-.09),(2003.85,-.085),(2003.9,-.09),(2003.96,-.07),(2004.0,-.085),(2004.05,-.095),(2004.1,-.11),(2004.15,-.09),(2004.2,-.11),(2004.25,-.135),(2004.3,-.09),(2004.35,-.08),(2004.4,-.085),(2004.45,-.075),(2004.5,-.085),(2004.55,-.08),(2004.6,-.09),(2004.65,-.08),(2004.7,-.085),(2004.75,-.075),(2004.8,-.085),(2004.86,-.07),(2004.92,-.05),(2004.96,-.075),(2005.0,-.08),
(2005.05,-.075),(2005.1,-.09),(2005.15,-.085),(2005.2,-.1),(2005.25,-.095),(2005.3,-.105),(2005.35,-.1),(2005.4,-.11),(2005.45,-.105),(2005.5,-.12),(2005.55,-.115),(2005.58,-.145),(2005.62,-.11),(2005.66,-.1),(2005.7,-.09),(2005.75,-.095),(2005.8,-.08),(2005.85,-.09),(2005.9,-.085),(2005.95,-.08),(2006.0,-.09),(2006.05,-.08),(2006.1,-.095),(2006.16,-.05),(2006.2,-.1),(2006.25,-.08),(2006.3,-.1),(2006.35,-.095),(2006.4,-.105),(2006.45,-.1),(2006.5,-.11),(2006.55,-.105),(2006.6,-.11),(2006.65,-.1),(2006.7,-.09),(2006.73,-.055),(2006.77,-.08),(2006.82,-.085),(2006.87,-.075),(2006.92,-.085),(2006.97,-.08),(2007.02,-.085),(2007.07,-.075),(2007.12,-.085),(2007.17,-.08),(2007.22,-.09),(2007.27,-.085),(2007.32,-.095),(2007.37,-.09),(2007.42,-.1),(2007.47,-.095),(2007.52,-.1),(2007.57,-.09),(2007.62,-.095),(2007.67,-.085),(2007.7,-.06),(2007.74,-.085),(2007.8,-.08),(2007.86,-.075),(2007.92,-.085),(2007.98,-.08),(2008.04,-.085),(2008.1,-.09),(2008.14,-.11),(2008.18,-.1),(2008.22,-.125),(2008.26,-.11),(2008.3,-.13),(2008.34,-.1),(2008.38,-.135),(2008.42,-.11),(2008.46,-.1),(2008.5,-.125),(2008.55,-.11),(2008.6,-.14),(2008.64,-.11),(2008.68,-.125),(2008.72,-.1),(2008.78,-.06),(2008.82,-.08),(2008.86,-.07),(2008.92,-.075),(2008.97,-.07),
(2009.02,-.064),(2009.06,-.065),(2009.1,-.09),(2009.13,-.07),(2009.16,-.1),(2009.19,-.07),(2009.22,-.12),(2009.25,-.075),(2009.28,-.1),(2009.31,-.07),(2009.34,-.13),(2009.37,-.08),(2009.4,-.15),(2009.43,-.18),(2009.45,-.1),(2009.47,-.17),(2009.5,-.09),(2009.52,-.2),(2009.54,-.29),(2009.56,-.12),(2009.58,-.2),(2009.6,-.32),(2009.62,-.08),(2009.66,-.1),(2009.7,-.2),(2009.72,-.08),(2009.77,-.085),(2009.82,-.08),(2009.87,-.085),(2009.91,-.065),(2009.94,-.1),(2009.98,-.07),(2010.02,-.09),(2010.06,-.075),(2010.1,-.085),(2010.15,-.08),(2010.2,-.09),(2010.25,-.08),(2010.3,-.085),(2010.35,-.08),(2010.4,-.085),(2010.45,-.09),(2010.48,-.1),(2010.5,-.13),(2010.52,-.33),(2010.54,-.07),(2010.56,.05),(2010.58,.14),(2010.6,-.05),(2010.63,-.1),(2010.66,-.27),(2010.68,-.09),(2010.72,-.085),(2010.78,-.09),(2010.84,-.085),(2010.9,-.095),(2010.96,-.085),(2011.02,-.09),(2011.08,-.085),(2011.13,-.16),(2011.16,-.1),(2011.2,-.09),(2011.25,-.085),(2011.3,-.095),(2011.35,-.08),(2011.4,-.03),(2011.43,-.09),(2011.46,-.085),(2011.49,-.015),(2011.52,-.11),(2011.56,-.12),(2011.6,-.095),(2011.64,-.1),(2011.69,-.03),(2011.72,-.1),(2011.76,-.13),(2011.8,-.1),(2011.83,-.16),(2011.87,-.2),(2011.9,-.11),(2011.94,-.15),(2011.98,-.09),(2012.02,-.1),(2012.06,-.08),(2012.1,-.12),(2012.14,-.09),(2012.18,-.11),(2012.22,-.1),(2012.26,-.15),(2012.3,-.11),(2012.34,-.16),(2012.38,-.12),(2012.42,-.11),(2012.47,-.12),(2012.52,-.105),(2012.58,-.1),(2012.64,-.1),(2012.7,-.1),(2012.76,-.1),(2012.82,-.095),(2012.88,-.11),(2012.9,-.08),(2012.93,-.1),(2012.97,-.095),(2013.0,-.1)]

y_ranges = [(-0.415, 0.305), (-0.39, 0.31), (-0.264, 0.409), (-0.327, 0.718)]

# ---------------- layout constants ----------------
# the browser page keeps an 8 px body margin, so the figure is drawn 8 px smaller
# and every reference pixel position is shifted by that offset
OFF = 8
W, H = 1260 - OFF, 1360 - OFF
FONT = "Liberation Sans, Arial, Helvetica, sans-serif"
X_LEFT, X_RIGHT = 72.5 - OFF, 1211 - OFF
BOXES = [(54.7 - OFF, 286.3 - OFF), (398.7 - OFF, 629.7 - OFF),
         (741.3 - OFF, 972.3 - OFF), (1084.3 - OFF, 1315.3 - OFF)]

panels = [
    (z1_red, z1_blue, y_ticks_1, y_labels_1),
    (z2_red, z2_blue, y_ticks_2, y_labels_2),
    (z3_red, z3_blue, y_ticks_3, y_labels_3),
    (z4_red, z4_blue, y_ticks_4, y_labels_4),
]

fig = go.Figure()
layout = dict(
    template="none",
    width=W, height=H, autosize=False,
    margin=dict(l=0, r=0, t=0, b=0, pad=0),
    paper_bgcolor="white", plot_bgcolor="white",
    showlegend=False,
    font=dict(family=FONT, color="black"),
)
annotations = []

for i, (red, blue, yt, yl) in enumerate(panels):
    n = "" if i == 0 else str(i + 1)
    top, bot = BOXES[i]
    for series, col in ((red, "#ff0000"), (blue, "#0000ff")):
        fig.add_trace(go.Scatter(
            x=[p[0] for p in series], y=[p[1] for p in series],
            mode="lines", line=dict(color=col, width=1.1),
            xaxis="x" + n, yaxis="y" + n, hoverinfo="skip",
        ))
    layout["xaxis" + n] = dict(
        domain=[X_LEFT / W, X_RIGHT / W], anchor="y" + n, automargin=False,
        range=[2001, 2013], tickvals=year_ticks, ticktext=year_labels,
        ticks="inside", ticklen=12, tickcolor="black", tickwidth=1,
        showline=True, linecolor="black", linewidth=1, mirror="ticks",
        showgrid=False, zeroline=False,
        tickfont=dict(family=FONT, size=30, color="black"),
        ticklabelstandoff=0,
    )
    layout["yaxis" + n] = dict(
        domain=[1 - bot / H, 1 - top / H], anchor="x" + n, automargin=False,
        range=list(y_ranges[i]), tickvals=yt, ticktext=yl,
        ticks="inside", ticklen=12, tickcolor="black", tickwidth=1,
        showline=True, linecolor="black", linewidth=1, mirror="ticks",
        showgrid=False, zeroline=False,
        tickfont=dict(family=FONT, size=30, color="black"),
        ticklabelstandoff=0,
    )
    annotations.append(dict(
        text=zona_titles[i], xref="paper", yref="paper",
        x=(X_LEFT + X_RIGHT) / 2 / W - 2 / W, y=1 - (top - 33) / H,
        xanchor="center", yanchor="middle", showarrow=False,
        font=dict(family=FONT, size=26, color="black"),
    ))

layout["annotations"] = annotations
fig.update_layout(**layout)
fig.write_html("out.html")
